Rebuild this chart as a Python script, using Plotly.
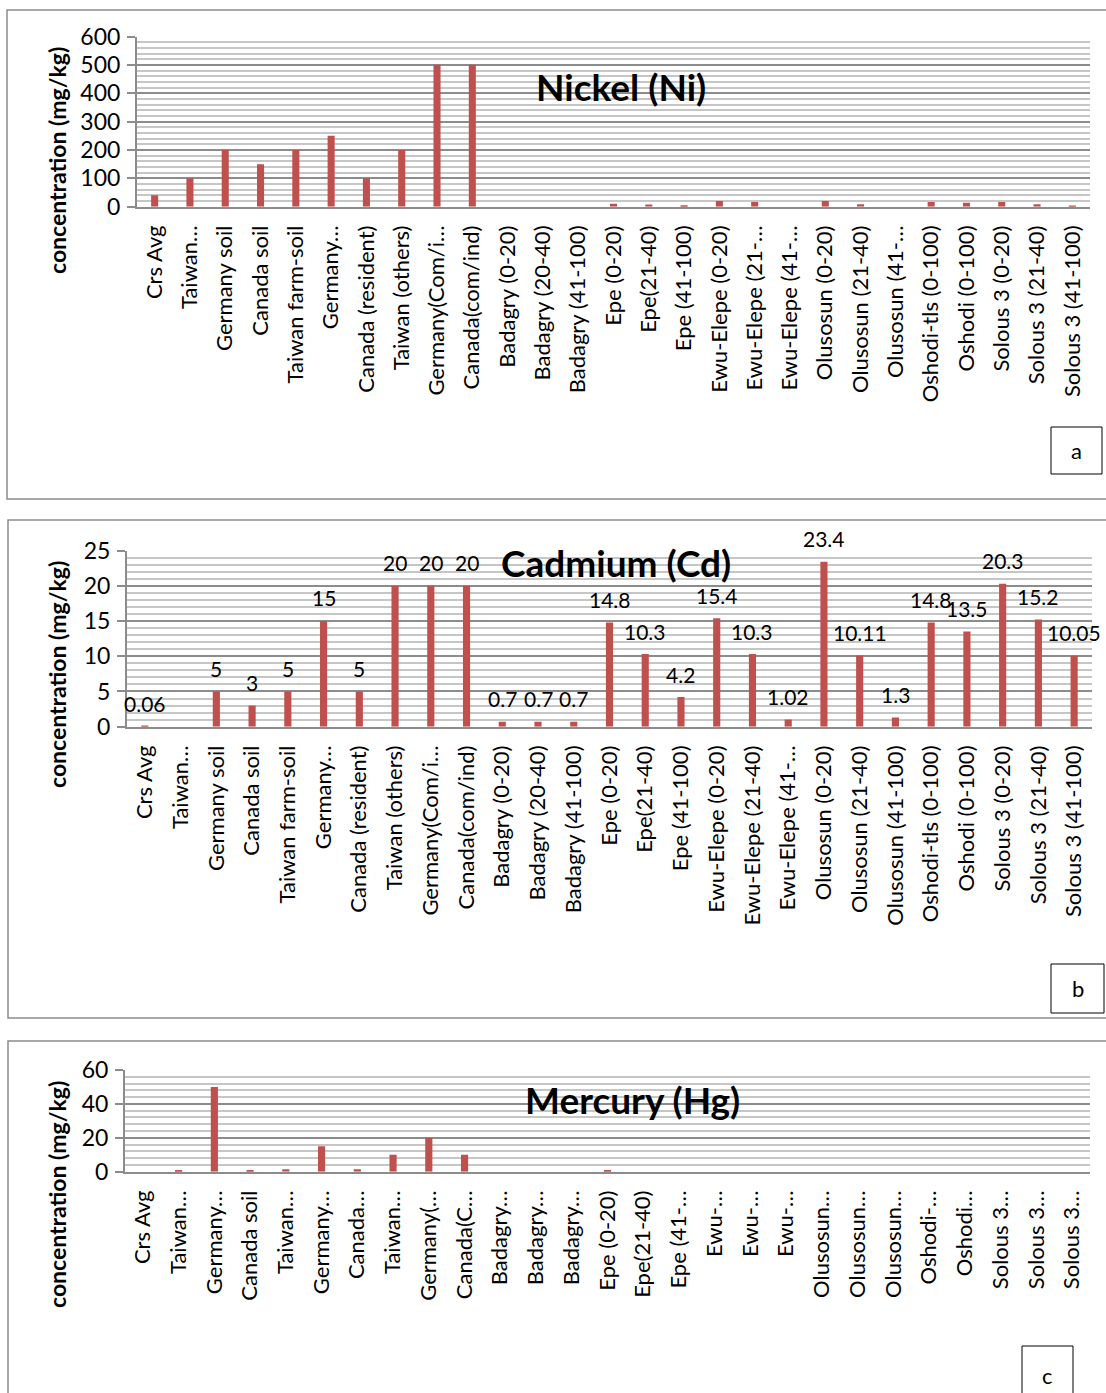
import plotly.graph_objects as go

W, H = 1106, 1393

ni_labels = ["Crs Avg", "Taiwan…", "Germany soil", "Canada soil", "Taiwan farm-soil", "Germany…",
             "Canada (resident)", "Taiwan (others)", "Germany(Com/i…", "Canada(com/ind)",
             "Badagry (0-20)", "Badagry (20-40)", "Badagry (41-100)", "Epe (0-20)", "Epe(21-40)",
             "Epe (41-100)", "Ewu-Elepe (0-20)", "Ewu-Elepe (21-…", "Ewu-Elepe (41-…",
             "Olusosun (0-20)", "Olusosun (21-40)", "Olusosun (41-…", "Oshodi-tls (0-100)",
             "Oshodi (0-100)", "Solous 3 (0-20)", "Solous 3 (21-40)", "Solous 3 (41-100)"]
ni_values = [40, 100, 200, 150, 200, 250, 100, 200, 500, 500,
             None, None, None, 10, 8, 5, 20, 17, None, 20, 9, None, 17, 14, 17, 9, 3]

cd_labels = ["Crs Avg", "Taiwan…", "Germany soil", "Canada soil", "Taiwan farm-soil", "Germany…",
             "Canada (resident)", "Taiwan (others)", "Germany(Com/i…", "Canada(com/ind)",
             "Badagry (0-20)", "Badagry (20-40)", "Badagry (41-100)", "Epe (0-20)", "Epe(21-40)",
             "Epe (41-100)", "Ewu-Elepe (0-20)", "Ewu-Elepe (21-40)", "Ewu-Elepe (41-…",
             "Olusosun (0-20)", "Olusosun (21-40)", "Olusosun (41-100)", "Oshodi-tls (0-100)",
             "Oshodi (0-100)", "Solous 3 (0-20)", "Solous 3 (21-40)", "Solous 3 (41-100)"]
cd_values = [0.06, None, 5, 3, 5, 15, 5, 20, 20, 20,
             0.7, 0.7, 0.7, 14.8, 10.3, 4.2, 15.4, 10.3, 1.02, 23.4, 10.11, 1.3, 14.8,
             13.5, 20.3, 15.2, 10.05]

hg_labels = ["Crs Avg", "Taiwan…", "Germany…", "Canada soil", "Taiwan…", "Germany…", "Canada…",
             "Taiwan…", "Germany(…", "Canada(C…", "Badagry…", "Badagry…", "Badagry…",
             "Epe (0-20)", "Epe(21-40)", "Epe (41-…", "Ewu-…", "Ewu-…", "Ewu-…", "Olusosun…",
             "Olusosun…", "Olusosun…", "Oshodi-…", "Oshodi…", "Solous 3…", "Solous 3…", "Solous 3…"]
hg_values = [None, 0.5, 50, 0.5, 1.5, 15, 1.5, 10, 20, 10,
             None, None, None, 0.6, None, None, None, None, None, None,
             None, None, None, None, None, None, None]

ni_ticks = [0, 100, 200, 300, 400, 500, 600]
cd_ticks = [0, 5, 10, 15, 20, 25]
hg_ticks = [0, 20, 40, 60]

FONT = "Lato"
BAR = "#c0504d"
MAJ = "#8c8c8c"
MIN = "#c6c6c6"


def px_x(v):
    return v / W


def px_y(v):
    return 1 - v / H


panels = [
    dict(labels=ni_labels, values=ni_values, ticks=ni_ticks, minor=20, rng=[0, 600],
         xd=[137, 1090], yd=[206.7, 36.5], title="Nickel (Ni)", tpos=(621, 86),
         ytpos=(57, 161), text=False),
    dict(labels=cd_labels, values=cd_values, ticks=cd_ticks, minor=1, rng=[0, 25],
         xd=[127, 1092], yd=[726.7, 550.5], title="Cadmium (Cd)", tpos=(616, 562),
         ytpos=(57, 675), text=True),
    dict(labels=hg_labels, values=hg_values, ticks=hg_ticks, minor=4, rng=[0, 60],
         xd=[125, 1090], yd=[1171.7, 1070], title="Mercury (Hg)", tpos=(632, 1099),
         ytpos=(57, 1195), text=False),
]

fig = go.Figure()
layout = dict(width=W, height=H, margin=dict(l=0, r=0, t=0, b=0, autoexpand=False),
              paper_bgcolor="white", plot_bgcolor="white", showlegend=False,
              font=dict(family=FONT, color="black"))
annotations = []
shapes = []

for i, p in enumerate(panels):
    n = i + 1
    xa = "x" if n == 1 else f"x{n}"
    ya = "y" if n == 1 else f"y{n}"
    xs = list(range(len(p["labels"])))
    fig.add_trace(go.Bar(x=xs, y=p["values"], marker=dict(color=BAR, line=dict(width=0)),
                         width=0.2, xaxis=xa, yaxis=ya, cliponaxis=False, hoverinfo="skip"))
    if p["text"]:
        # data labels, placed above each bar by the axis scale
        for xv, v in zip(xs, p["values"]):
            if v is None:
                continue
            annotations.append(dict(text=f"{v:g}", x=xv, y=v, xref=xa, yref=ya,
                                    xanchor="center", yanchor="middle", yshift=23,
                                    showarrow=False,
                                    font=dict(size=21, color="black", family=FONT)))

    xkey = "xaxis" if n == 1 else f"xaxis{n}"
    ykey = "yaxis" if n == 1 else f"yaxis{n}"
    layout[xkey] = dict(domain=[px_x(p["xd"][0]), px_x(p["xd"][1])], anchor=ya,
                        range=[-0.5, len(xs) - 0.5], tickmode="array", tickvals=xs,
                        ticktext=p["labels"], tickangle=-90, showgrid=False, zeroline=False,
                        showline=True, linecolor=MAJ, linewidth=2, ticks="",
                        tickfont=dict(size=22, family=FONT, color="black"),
                        ticklabelstandoff=8, fixedrange=True, automargin=False)
    layout[ykey] = dict(domain=[px_y(p["yd"][0]), px_y(p["yd"][1])], anchor=xa,
                        range=p["rng"], tickmode="array", tickvals=p["ticks"],
                        showgrid=True, gridcolor=MAJ, gridwidth=2,
                        minor=dict(dtick=p["minor"], showgrid=True, gridcolor=MIN, gridwidth=2),
                        zeroline=False, showline=True, linecolor=MAJ, linewidth=2,
                        ticks="outside", ticklen=8, tickcolor=MAJ, tickwidth=2,
                        tickfont=dict(size=23, family=FONT, color="black"),
                        ticklabelstandoff=2, fixedrange=True, automargin=False)
    annotations.append(dict(text="<b>" + p["title"] + "</b>", x=px_x(p["tpos"][0]),
                            y=px_y(p["tpos"][1]), xref="paper", yref="paper",
                            xanchor="center", yanchor="middle", showarrow=False,
                            font=dict(size=37, family=FONT, color="black")))
    annotations.append(dict(text="<b>concentration (mg/kg)</b>", x=px_x(p["ytpos"][0]),
                            y=px_y(p["ytpos"][1]), xref="paper", yref="paper",
                            xanchor="center", yanchor="middle", showarrow=False, textangle=-90,
                            font=dict(size=23, family=FONT, color="black")))

# outer panel borders
borders = [(7, 10, 1112, 499), (8, 520, 1112, 1018), (8, 1041, 1112, 1400)]
for x0, y0, x1, y1 in borders:
    shapes.append(dict(type="rect", xref="paper", yref="paper", x0=px_x(x0), x1=px_x(x1),
                       y0=px_y(y1), y1=px_y(y0), line=dict(color="#8c8c8c", width=1.5),
                       fillcolor="rgba(0,0,0,0)", layer="below"))

letters = [("a", 1051, 427, 1102, 474), ("b", 1051, 964, 1104, 1013), ("c", 1022, 1346, 1073, 1400)]
for t, x0, y0, x1, y1 in letters:
    shapes.append(dict(type="rect", xref="paper", yref="paper", x0=px_x(x0), x1=px_x(x1),
                       y0=px_y(y1), y1=px_y(y0), line=dict(color="black", width=1),
                       fillcolor="white"))
    cy = 1375 if t == "c" else (y0 + y1) / 2
    annotations.append(dict(text=t, x=px_x((x0 + x1) / 2), y=px_y(cy),
                            xref="paper", yref="paper", xanchor="center", yanchor="middle",
                            showarrow=False, font=dict(size=22, family=FONT, color="black")))

layout["annotations"] = annotations
layout["shapes"] = shapes
fig.update_layout(**layout)
fig.write_html("out.html", config={"responsive": False, "displayModeBar": False},
               post_script="document.body.style.margin='0';document.body.style.overflow='hidden';")
